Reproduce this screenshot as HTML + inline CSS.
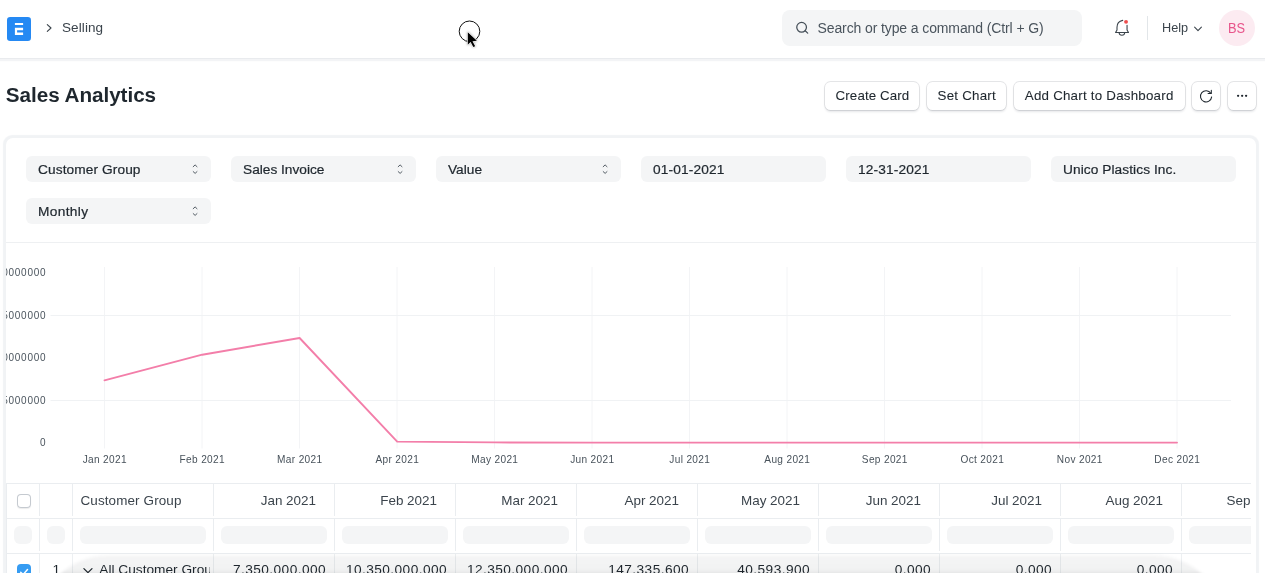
<!DOCTYPE html>
<html>
<head>
<meta charset="utf-8">
<title>Sales Analytics</title>
<style>
*{box-sizing:border-box;margin:0;padding:0}
html,body{width:1265px;height:573px;overflow:hidden;background:#fff}
body{font-family:"Liberation Sans",sans-serif;font-size:13px;color:#1f272e;position:relative}
.abs{position:absolute}
.t{position:absolute;white-space:nowrap;line-height:1}
/* navbar */
#nav{left:0;top:0;width:1265px;height:59px;background:#fff;border-bottom:1px solid #e9ebee;box-shadow:0 2.2px 0 #f3f4f6}
#logo{left:7px;top:17px;width:24px;height:24px;border-radius:3.2px;background:#2589f3}
#search{left:782px;top:10px;width:300px;height:36px;border-radius:8px;background:#f4f5f6}
#avatar{left:1219px;top:10px;width:36px;height:36px;border-radius:50%;background:#fcebf1}
/* buttons */
.btn{position:absolute;top:81.9px;height:27.8px;background:#fff;border-radius:5.5px;box-shadow:0 0 0 .9px rgba(25,39,52,.115),0 1.6px 2.2px rgba(25,39,52,.11)}
/* card */
#card{left:6px;top:138px;width:1250px;height:500px;border-radius:7px;background:#fff;box-shadow:0 0 1px 2.2px #f1f3f5}
.flt{position:absolute;width:185px;height:26px;border-radius:6px;background:#f4f5f6}
.flt span{position:absolute;left:12px;top:6.7px;line-height:1;white-space:nowrap;font-size:13.7px;color:#1f272e;-webkit-text-stroke:.22px #1f272e}
.flt svg{position:absolute;left:165px;top:7.5px}
/* table */
.vl{position:absolute;top:484px;width:1px;height:89px;background:linear-gradient(to bottom,#eaedf0 0,#eaedf0 31.8px,transparent 31.8px,transparent 35.2px,#eaedf0 35.2px,#eaedf0 66.7px,transparent 66.7px,transparent 70px,#edf0f2 70px)}
.vl0{position:absolute;top:484px;width:1px;height:89px;background:#eaedf0}
.hl{position:absolute;left:6px;width:1245px;height:1px;background:#eaedf0}
.fi{position:absolute;top:526px;height:18px;border-radius:6px;background:#f4f5f6}
.th{position:absolute;top:493.75px;line-height:1;white-space:nowrap;font-size:13.45px;color:#3b444c}
.td{position:absolute;top:563.2px;line-height:1;white-space:nowrap;font-size:13.7px;color:#1f272e}
.num{letter-spacing:.42px}
</style>
</head>
<body>
<div id="root" style="position:absolute;left:0;top:0;width:1265px;height:573px;overflow:hidden;will-change:transform">

<!-- NAVBAR -->
<div id="nav" class="abs"></div>
<div id="logo" class="abs">
  <svg width="24" height="24" viewBox="0 0 24 24" style="position:absolute;left:0;top:0">
    <path d="M7.9 6h8.2v2.1H7.9z M7.9 10.7h8.2v2.5h-6v2.4h6v2.3H7.9z" fill="#fff"/>
  </svg>
</div>
<svg class="abs" style="left:45px;top:23.3px" width="10" height="10" viewBox="0 0 10 10"><path d="M2.3 1.6 L6 5 L2.3 8.4" fill="none" stroke="#3b444c" stroke-width="1.1" stroke-linecap="round" stroke-linejoin="round"/></svg>
<div class="t" id="bc" style="left:62px;top:21.1px;font-size:13.5px;color:#3b444c;letter-spacing:.1px">Selling</div>

<div id="search" class="abs"></div>
<svg class="abs" style="left:794px;top:21px" width="16" height="16" viewBox="0 0 16 16"><circle cx="7.6" cy="6.3" r="4.85" fill="none" stroke="#454f58" stroke-width="1.25"/><path d="M11.2 9.8 L13.7 12.1" stroke="#454f58" stroke-width="1.25" stroke-linecap="round"/></svg>
<div class="t" id="stext" style="left:817.5px;top:21.2px;font-size:14px;color:#4a545d;letter-spacing:-.11px">Search or type a command (Ctrl + G)</div>

<!-- bell -->
<svg class="abs" style="left:1113px;top:18px" width="20" height="20" viewBox="0 0 20 20">
  <path d="M9.7 2.35 C6.4 3 4 5.4 4 9.2 V12 L2.6 14.55 H15.5 L14.05 12 V7.3 M6.1 14.8 C6.3 18 11.5 18 11.7 14.8" fill="none" stroke="#3b444c" stroke-width="1.1" stroke-linecap="round" stroke-linejoin="round"/>
  <circle cx="13.05" cy="3.85" r="1.95" fill="#ee4d4d"/>
</svg>
<div class="abs" style="left:1147px;top:16px;width:1px;height:24px;background:#e2e6e9"></div>
<div class="t" id="help" style="left:1162px;top:22.1px;font-size:12.7px;color:#3b444c">Help</div>
<svg class="abs" style="left:1193px;top:24px" width="10" height="10" viewBox="0 0 10 10"><path d="M1.6 3.2 L5 6.6 L8.4 3.2" fill="none" stroke="#3b444c" stroke-width="1.1" stroke-linecap="round" stroke-linejoin="round"/></svg>
<div id="avatar" class="abs"></div>
<div class="t" id="bs" style="left:1228.2px;top:20.6px;font-size:14.5px;color:#e8558b;transform:scaleX(.885);transform-origin:0 0">BS</div>

<!-- TITLE -->
<div class="t" id="title" style="left:5.8px;top:85.2px;font-size:20.7px;letter-spacing:-.05px;font-weight:bold;color:#1f272e">Sales Analytics</div>

<!-- BUTTONS -->
<div class="btn" style="left:824.7px;width:94.6px"></div>
<div class="t" id="b1" style="left:835.6px;top:89.2px;font-size:13.35px;color:#1f272e;letter-spacing:.1px;-webkit-text-stroke:.08px #1f272e">Create Card</div>
<div class="btn" style="left:926.7px;width:79.4px"></div>
<div class="t" id="b2" style="left:937.6px;top:89.2px;font-size:13.35px;color:#1f272e;letter-spacing:.22px;-webkit-text-stroke:.08px #1f272e">Set Chart</div>
<div class="btn" style="left:1013.5px;width:171.2px"></div>
<div class="t" id="b3" style="left:1024.8px;top:89.2px;font-size:13.35px;color:#1f272e;letter-spacing:.22px;-webkit-text-stroke:.08px #1f272e">Add Chart to Dashboard</div>
<div class="btn" style="left:1191.7px;width:28.4px"></div>
<svg class="abs" style="left:1196px;top:86px" width="20" height="20" viewBox="1196 86 20 20"><path d="M1210.8 93.3 A5.6 5.6 0 1 0 1211.65 96.9" fill="none" stroke="#1f272e" stroke-width="1.05" stroke-linecap="round"/><path d="M1211.3 90.2 V93.4 H1208.1" fill="none" stroke="#1f272e" stroke-width="1.05" stroke-linecap="round" stroke-linejoin="round"/></svg>
<div class="btn" style="left:1227.8px;width:28.4px"></div>
<svg class="abs" style="left:1232px;top:86px" width="20" height="20" viewBox="1232 86 20 20"><circle cx="1238.1" cy="95.8" r="1.15" fill="#1f272e"/><circle cx="1242.15" cy="95.8" r="1.15" fill="#1f272e"/><circle cx="1246.1" cy="95.8" r="1.15" fill="#1f272e"/></svg>

<!-- CARD -->
<div id="card" class="abs"></div>

<!-- FILTERS -->
<div class="flt" style="left:26px;top:156px"><span style="letter-spacing:.1px">Customer Group</span><svg width="8" height="12" viewBox="0 0 8 12"><path d="M2.2 2.7 L4.1 .9 L6 2.7 M2.2 7.6 L4.1 9.4 L6 7.6" fill="none" stroke="#4a535c" stroke-width=".95" stroke-linecap="round" stroke-linejoin="round"/></svg></div>
<div class="flt" style="left:231px;top:156px"><span>Sales Invoice</span><svg width="8" height="12" viewBox="0 0 8 12"><path d="M2.2 2.7 L4.1 .9 L6 2.7 M2.2 7.6 L4.1 9.4 L6 7.6" fill="none" stroke="#4a535c" stroke-width=".95" stroke-linecap="round" stroke-linejoin="round"/></svg></div>
<div class="flt" style="left:436px;top:156px"><span>Value</span><svg width="8" height="12" viewBox="0 0 8 12"><path d="M2.2 2.7 L4.1 .9 L6 2.7 M2.2 7.6 L4.1 9.4 L6 7.6" fill="none" stroke="#4a535c" stroke-width=".95" stroke-linecap="round" stroke-linejoin="round"/></svg></div>
<div class="flt" style="left:641px;top:156px"><span style="letter-spacing:.15px">01-01-2021</span></div>
<div class="flt" style="left:846px;top:156px"><span style="letter-spacing:.15px">12-31-2021</span></div>
<div class="flt" style="left:1051px;top:156px"><span style="letter-spacing:.08px">Unico Plastics Inc.</span></div>
<div class="flt" style="left:26px;top:198px"><span style="letter-spacing:.35px">Monthly</span><svg width="8" height="12" viewBox="0 0 8 12"><path d="M2.2 2.7 L4.1 .9 L6 2.7 M2.2 7.6 L4.1 9.4 L6 7.6" fill="none" stroke="#4a535c" stroke-width=".95" stroke-linecap="round" stroke-linejoin="round"/></svg></div>
<div class="abs" style="left:6px;top:241.5px;width:1250px;height:1px;background:#eef0f2"></div>

<!-- CHART -->
<svg class="abs" id="chart" style="left:6px;top:250px" width="1250" height="230" viewBox="6 250 1250 230">
  <g stroke="#f3f4f6" stroke-width="1" fill="none">
    <path d="M104.5 267V448.5M202 267V448.5M299.5 267V448.5M397 267V448.5M494.5 267V448.5M592 267V448.5M689.5 267V448.5M787 267V448.5M884.5 267V448.5M982 267V448.5M1079.5 267V448.5M1177 267V448.5"/>
    <path d="M50.5 315.5H1231M50.5 400.5H1231" stroke="#f0f2f4"/>
  </g>
  <path d="M104.5 380.3 L202.2 354.7 L299.6 338 L397.2 441.6 L494.5 442.4 L592 442.6 L689.5 442.6 L787 442.6 L884.5 442.6 L982 442.6 L1079.5 442.6 L1177 442.6" fill="none" stroke="#f37ea9" stroke-width="1.9" stroke-linejoin="round" stroke-linecap="round"/>
  <g font-family="Liberation Sans, sans-serif" font-size="10" letter-spacing=".74" fill="#4a545d" text-anchor="end">
    <text x="46.3" y="276">20000000</text>
    <text x="46.3" y="319">15000000</text>
    <text x="46.3" y="361">10000000</text>
    <text x="46.3" y="404">5000000</text>
    <text x="46.3" y="446">0</text>
  </g>
  <g font-family="Liberation Sans, sans-serif" font-size="10.1" letter-spacing=".34" fill="#48525b" text-anchor="middle">
    <text x="104.8" y="462.7">Jan 2021</text>
    <text x="202.3" y="462.7">Feb 2021</text>
    <text x="299.8" y="462.7">Mar 2021</text>
    <text x="397.3" y="462.7">Apr 2021</text>
    <text x="494.8" y="462.7">May 2021</text>
    <text x="592.3" y="462.7">Jun 2021</text>
    <text x="689.8" y="462.7">Jul 2021</text>
    <text x="787.3" y="462.7">Aug 2021</text>
    <text x="884.8" y="462.7">Sep 2021</text>
    <text x="982.3" y="462.7">Oct 2021</text>
    <text x="1079.8" y="462.7">Nov 2021</text>
    <text x="1177.3" y="462.7">Dec 2021</text>
  </g>
</svg>

<!-- TABLE -->
<div id="table" class="abs" style="left:0;top:0;width:1251px;height:573px;overflow:hidden">
<div class="hl" style="top:483.3px"></div>
<div class="hl" style="top:517.6px"></div>
<div class="hl" style="top:552.6px"></div>
<div class="vl0" style="left:6px"></div>
<div class="vl" style="left:39.0px"></div>
<div class="vl" style="left:72.0px"></div>
<div class="vl" style="left:213.0px"></div>
<div class="vl" style="left:334.0px"></div>
<div class="vl" style="left:455.0px"></div>
<div class="vl" style="left:576.0px"></div>
<div class="vl" style="left:697.0px"></div>
<div class="vl" style="left:818.0px"></div>
<div class="vl" style="left:939.0px"></div>
<div class="vl" style="left:1060.0px"></div>
<div class="vl" style="left:1181.0px"></div>
<div class="abs" style="left:17px;top:494px;width:14px;height:14px;border-radius:4px;background:#fff;box-shadow:inset 0 0 0 1px #c5cad0,0 1px 1px rgba(0,0,0,.08)"></div>
<div class="th" style="left:80.5px;letter-spacing:.12px">Customer Group</div>
<div class="fi" style="left:14px;width:18px"></div>
<div class="fi" style="left:47px;width:18px"></div>
<div class="fi" style="left:80px;width:126px"></div>
<div class="fi" style="left:221.0px;width:106px"></div>
<div class="th" style="right:935.0px">Jan 2021</div>
<div class="td num" style="right:925.0px">7,350,000.000</div>
<div class="fi" style="left:342.0px;width:106px"></div>
<div class="th" style="right:814.0px">Feb 2021</div>
<div class="td num" style="right:804.0px">10,350,000.000</div>
<div class="fi" style="left:463.0px;width:106px"></div>
<div class="th" style="right:693.0px">Mar 2021</div>
<div class="td num" style="right:683.0px">12,350,000.000</div>
<div class="fi" style="left:584.0px;width:106px"></div>
<div class="th" style="right:572.0px">Apr 2021</div>
<div class="td num" style="right:562.0px">147,335.600</div>
<div class="fi" style="left:705.0px;width:106px"></div>
<div class="th" style="right:451.0px">May 2021</div>
<div class="td num" style="right:441.0px">40,593.900</div>
<div class="fi" style="left:826.0px;width:106px"></div>
<div class="th" style="right:330.0px">Jun 2021</div>
<div class="td num" style="right:320.0px">0.000</div>
<div class="fi" style="left:947.0px;width:106px"></div>
<div class="th" style="right:209.0px">Jul 2021</div>
<div class="td num" style="right:199.0px">0.000</div>
<div class="fi" style="left:1068.0px;width:106px"></div>
<div class="th" style="right:88.0px">Aug 2021</div>
<div class="td num" style="right:78.0px">0.000</div>
<div class="fi" style="left:1189.0px;width:106px"></div>
<div class="th" style="right:-33.0px">Sep 2021</div>
<div class="td num" style="right:-43.0px">0.000</div>
<div class="abs" style="left:17px;top:564px;width:14px;height:14px;border-radius:4px;background:#369cf2"></div>
<svg class="abs" style="left:17px;top:564px" width="14" height="14" viewBox="0 0 14 14"><path d="M3.7 8.2 L6.1 10.6 L10.5 5.5" fill="none" stroke="#fff" stroke-width="1.45" stroke-linecap="round" stroke-linejoin="round"/></svg>
<div class="td" style="left:52.5px">1</div>
<svg class="abs" style="left:82px;top:564.7px" width="12" height="12" viewBox="0 0 12 12"><path d="M1.9 3.6 L5.95 7.65 L10 3.6" fill="none" stroke="#1f272e" stroke-width="1.2" stroke-linecap="round" stroke-linejoin="round"/></svg>
<div class="td" style="left:99.3px;width:110.9px;overflow:hidden">All Customer Groups</div>
</div>
<div class="abs" id="ovl" style="left:35px;top:554.6px;width:1192px;height:150px;border-radius:75px;background:linear-gradient(to bottom,rgba(20,25,30,.03) 0,rgba(20,25,30,.05) 4px,rgba(20,25,30,.055) 14.5px,rgba(20,25,30,.075) 16.5px,rgba(20,25,30,.14) 19.5px);filter:blur(1.6px)"></div>

<!-- CURSOR -->
<svg class="abs" style="left:450px;top:12px;z-index:50" width="40" height="40" viewBox="450 12 40 40">
  <circle cx="469.5" cy="31.3" r="10.3" fill="none" stroke="#111" stroke-width="1"/>
  <path d="M467.8 32.2 L467.8 44.8 L470.6 42.1 L473.3 47 L475.2 46.2 L472.5 41.3 L476.9 40.8 Z" fill="#000" stroke="#fff" stroke-width="1.1" stroke-linejoin="round" paint-order="stroke" style="filter:drop-shadow(0 .8px .8px rgba(0,0,0,.35))"/>
</svg>
</div>
</body>
</html>
